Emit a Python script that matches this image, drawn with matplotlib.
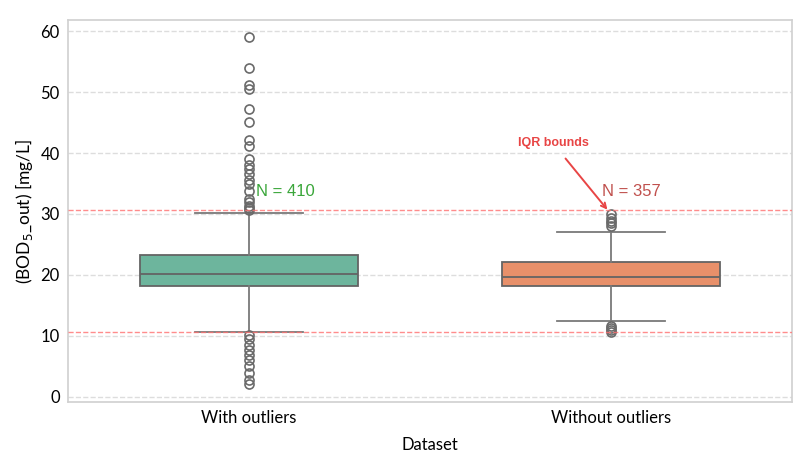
import matplotlib
matplotlib.use("Agg")
import matplotlib.pyplot as plt

# values
categories = ["With outliers", "Without outliers"]
q1 = [18.2, 18.2]
median = [20.1, 19.6]
q3 = [23.2, 22.1]
whisker_low = [10.7, 12.5]
whisker_high = [30.1, 27.0]
fliers_with = [59.1, 54.0, 51.1, 50.5, 47.2, 45.1, 42.1, 41.1, 39.0, 38.1,
               37.3, 36.5, 35.6, 34.9, 33.8, 32.4, 31.9, 31.3, 30.9, 30.6,
               10.2, 9.4, 8.5, 7.7, 6.9, 6.1, 5.0, 3.9, 2.8, 2.0]
fliers_without = [30.0, 29.4, 28.9, 28.5, 28.1, 11.6, 11.2, 10.9, 10.6]
n_counts = [410, 357]
iqr_low = 10.6
iqr_high = 30.7
box_colors = ["#6db59d", "#e8906a"]
n_colors = ["#3aa63a", "#c0504d"]

plt.rcParams["font.family"] = ["Lato", "DejaVu Sans"]

fig = plt.figure(figsize=(8, 4.75), dpi=100)
ax = fig.add_axes([0.085, 0.154, 0.905, 0.804])

stats = []
for i, name in enumerate(categories):
    stats.append({
        "label": name, "q1": q1[i], "med": median[i], "q3": q3[i],
        "whislo": whisker_low[i], "whishi": whisker_high[i],
        "fliers": [fliers_with, fliers_without][i],
    })

bp = ax.bxp(stats, positions=[0, 1], widths=0.6, patch_artist=True,
            boxprops=dict(edgecolor="#646464", linewidth=1.3),
            medianprops=dict(color="#646464", linewidth=1.3),
            whiskerprops=dict(color="#7a7a7a", linewidth=1.3),
            capprops=dict(color="#7a7a7a", linewidth=1.3),
            capwidths=0.3,
            flierprops=dict(marker="o", markerfacecolor="none",
                            markeredgecolor="#6a6a6a", markersize=6.5,
                            markeredgewidth=1.2))
for patch, c in zip(bp["boxes"], box_colors):
    patch.set_facecolor(c)

ax.axhline(iqr_high, color="#ff7070", linestyle="--", linewidth=1, alpha=0.8, zorder=3)
ax.axhline(iqr_low, color="#ff7070", linestyle="--", linewidth=1, alpha=0.8, zorder=3)

ax.text(0.02, 33.7, f"N = {n_counts[0]}", color=n_colors[0], fontsize=12,
        ha="left", va="center", family=["Liberation Sans"])
ax.text(0.976, 33.7, f"N = {n_counts[1]}", color=n_colors[1], fontsize=12,
        ha="left", va="center", family=["Liberation Sans"])

ax.annotate("IQR bounds", xy=(0.99, iqr_high), xytext=(0.84, 41.6),
            color="#e84545", fontsize=9, ha="center", va="center",
            family=["Liberation Sans"], fontweight="semibold",
            arrowprops=dict(arrowstyle="->", color="#e84545", lw=1.4,
                            shrinkA=6, shrinkB=0))

ax.set_xlim(-0.5, 1.5)
ax.set_ylim(-0.85, 61.85)
ax.set_yticks(range(0, 61, 10))
ax.grid(axis="y", linestyle="--", color="#dddddd", linewidth=1)
ax.set_axisbelow(True)
for s in ax.spines.values():
    s.set_color("#d0d0d0")
    s.set_linewidth(1.2)
ax.tick_params(length=0, labelsize=12, pad=6)
ax.set_xlabel("Dataset", fontsize=12, labelpad=8)
ax.set_ylabel("(BOD$_5$_out) [mg/L]", fontsize=12.5, labelpad=4)

fig.savefig("out.png", dpi=100)
